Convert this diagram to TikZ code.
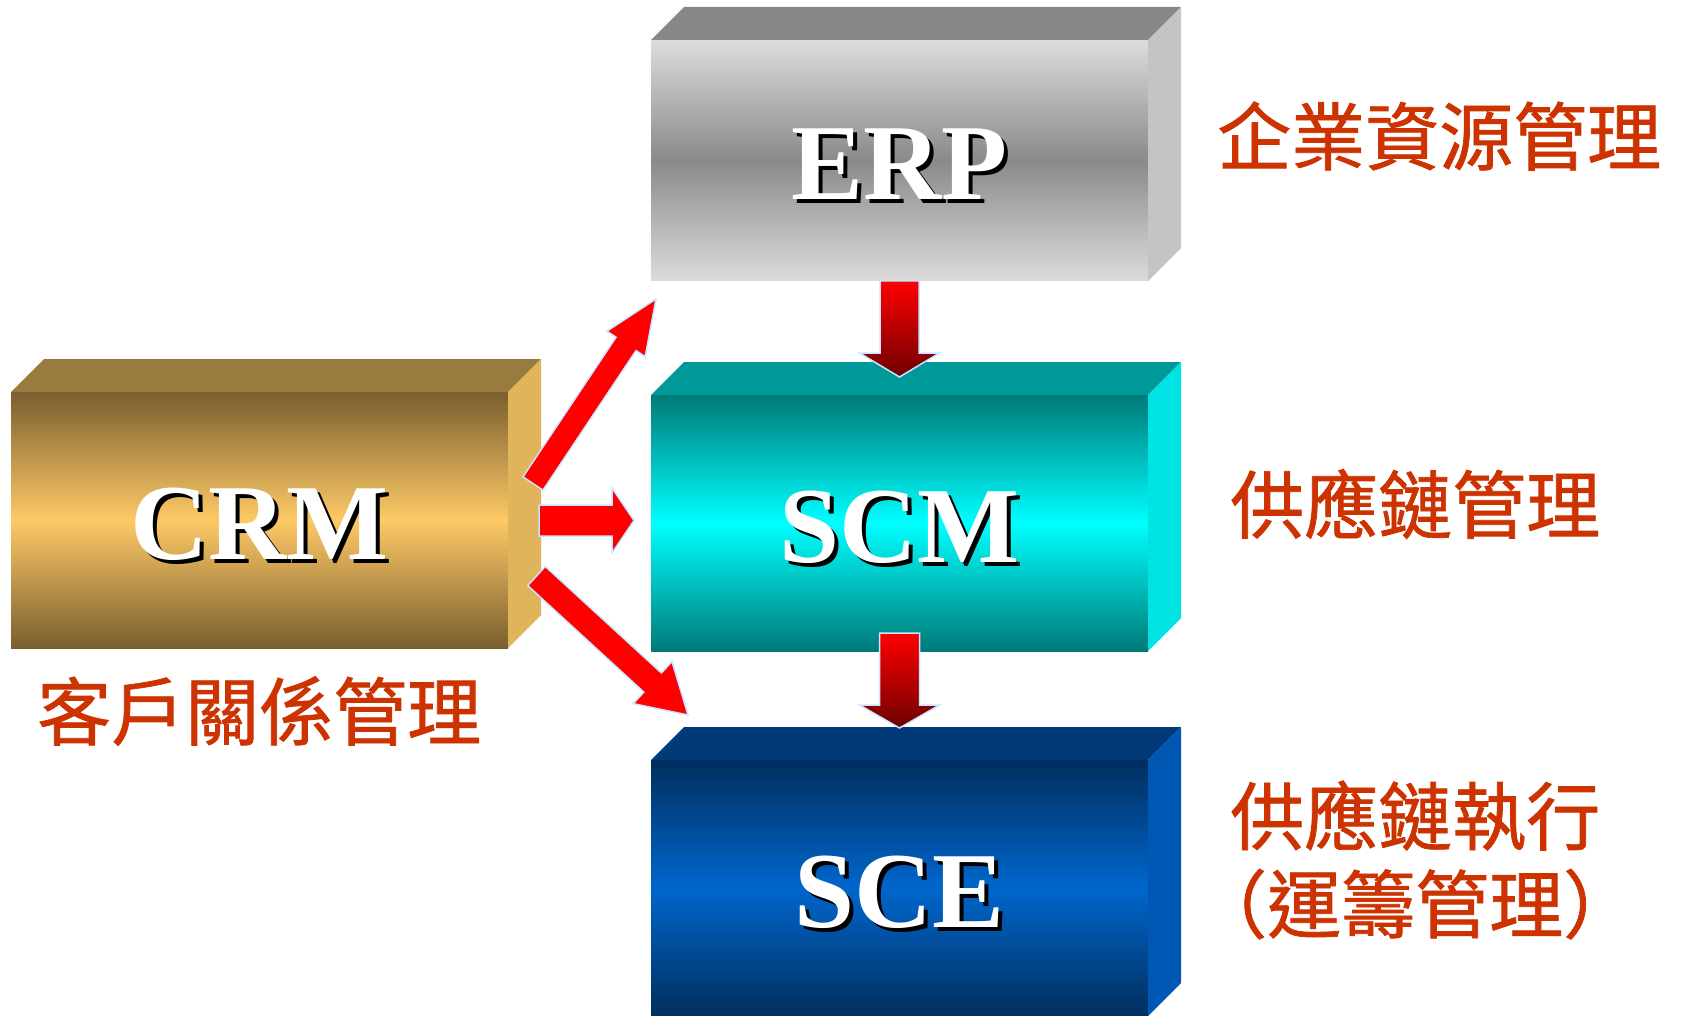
\documentclass[tikz,border=0pt]{standalone}
\usepackage{fontspec}
\setmainfont{Liberation Serif}
\newfontfamily\cjk[FakeBold=1]{Noto Sans CJK TC}
\usetikzlibrary{calc}
\definecolor{lab}{RGB}{204,51,0}
\definecolor{arrowline}{RGB}{200,230,255}
\definecolor{darkred}{RGB}{110,0,0}
\definecolor{erpL}{RGB}{220,220,220}
\definecolor{erpD}{RGB}{138,138,138}
\definecolor{erpT}{RGB}{135,135,135}
\definecolor{erpS}{RGB}{196,196,196}
\definecolor{scmL}{RGB}{0,122,120}
\definecolor{scmD}{RGB}{0,255,255}
\definecolor{scmT}{RGB}{0,153,153}
\definecolor{scmS}{RGB}{0,227,227}
\definecolor{sceL}{RGB}{0,46,94}
\definecolor{sceD}{RGB}{0,102,204}
\definecolor{sceT}{RGB}{0,58,120}
\definecolor{sceS}{RGB}{0,88,180}
\definecolor{crmL}{RGB}{122,94,47}
\definecolor{crmD}{RGB}{253,201,102}
\definecolor{crmT}{RGB}{154,123,63}
\definecolor{crmS}{RGB}{224,180,90}
\tikzset{
  front/.style={inner sep=0pt, outer sep=0pt, minimum width=497pt,
    font=\fontsize{108}{110}\selectfont\bfseries},
  lbl/.style={text=lab, font=\cjk\fontsize{74}{88}\selectfont, inner sep=0pt,
    anchor=west, align=left},
  barrow/.style={fill=red, draw=arrowline, line width=1.5pt, line join=miter},
  darrow/.style={top color=red, bottom color=darkred, draw=arrowline,
    line width=1.5pt, line join=miter},
}
\newcommand\shtext[1]{\raisebox{-6pt}[\height][\depth]{\makebox[0pt][l]{\hspace{4pt}\raisebox{-4pt}{\color{black}#1}}\color{white}#1}}
\newcommand\boxfaces[3]{%
  \fill[#2] (#1.north west) -- ++(33,-33) -- ([shift={(33,-33)}]#1.north east) -- (#1.north east) -- cycle;
  \fill[#3] (#1.north east) -- ([shift={(33,-33)}]#1.north east) -- ([shift={(33,-33)}]#1.south east) -- (#1.south east) -- cycle;
}
\newcommand\blockarrow[6]{%
  \coordinate (ahb) at ($(#3)!#6!(#2)$);
  \path[#1] ($(#2)!#4!90:(#3)$) -- ($(ahb)!#4!90:(#3)$) -- ($(ahb)!#5!90:(#3)$) -- (#3)
    -- ($(ahb)!#5!-90:(#3)$) -- ($(ahb)!#4!-90:(#3)$) -- ($(#2)!#4!-90:(#3)$) -- cycle;
}
\begin{document}
\begin{tikzpicture}[x=1pt, y=-1pt]
\useasboundingbox (0,0) rectangle (1681,1016);
\fill[white] (0,0) rectangle (1681,1016);

% boxes
\node[front, minimum height=241pt, top color=erpL, bottom color=erpL, middle color=erpD] (erp) at (899.5,160.5) {\shtext{ERP}};
\boxfaces{erp}{erpT}{erpS}
\node[front, minimum height=256pt, top color=scmL, bottom color=scmL, middle color=scmD] (scm) at (899.5,523) {\shtext{SCM}};
\boxfaces{scm}{scmT}{scmS}
\node[front, minimum height=256pt, top color=sceL, bottom color=sceL, middle color=sceD] (sce) at (899.5,888) {\shtext{SCE}};
\boxfaces{sce}{sceT}{sceS}
\node[front, minimum height=256pt, top color=crmL, bottom color=crmL, middle color=crmD] (crm) at (259.5,520) {\shtext{CRM}};
\boxfaces{crm}{crmT}{crmS}

% labels
\node[lbl] (lerp) at (1217,136) {企業資源管理};
\node[lbl] (lscm) at (1230,504) {供應鏈管理};
\node[lbl] (lsce) at (1230,860) {供應鏈執行\\{\addfontfeature{CharacterWidth=AlternateHalf}（運籌管理）}};
\node[lbl] (lcrm) at (37,711) {客戶關係管理};

% arrow end points
\coordinate (d1t) at (erp.south);
\coordinate (d1h) at (899.5,377);
\coordinate (d2t) at (899.5,633);
\coordinate (d2h) at (899.5,728);
\coordinate (c1t) at (533,483.5);
\coordinate (c1h) at (656,299);
\coordinate (c2t) at (539,520.5);
\coordinate (c2h) at (634,520.5);
\coordinate (c3t) at (536.5,576);
\coordinate (c3h) at (688,715);

\blockarrow{darrow}{d1t}{d1h}{19.5pt}{40pt}{24pt}
\blockarrow{darrow}{d2t}{d2h}{20pt}{40pt}{23pt}
\blockarrow{barrow}{c1t}{c1h}{12pt}{23pt}{54pt}
\blockarrow{barrow}{c2t}{c2h}{15.5pt}{32.5pt}{22pt}
\blockarrow{barrow}{c3t}{c3h}{13pt}{28.6pt}{48pt}
\end{tikzpicture}
\end{document}
